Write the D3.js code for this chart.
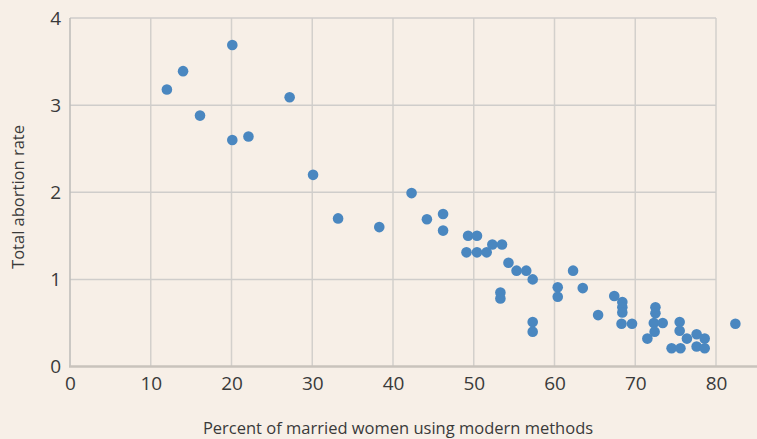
<!DOCTYPE html>
<html>
<head>
<meta charset="utf-8">
<script src="https://cdn.jsdelivr.net/npm/d3@7"></script>
<style>
  html, body { margin: 0; padding: 0; background: #f7efe7; }
  svg { display: block; }
</style>
</head>
<body>
<div class="scatterChart"></div>
<script>
// percent of married women using modern methods
const modernUse = [
  12.0, 14.0, 16.1, 20.1, 20.1, 22.1, 27.2, 30.1,
  33.2, 38.3, 42.3, 44.2, 46.2, 46.2,
  49.3, 50.4, 49.1, 50.4, 51.6, 52.3, 53.5, 54.3, 55.3, 56.5, 57.3,
  53.3, 53.3, 57.3, 57.3,
  60.4, 60.4, 62.3, 63.5, 65.4, 67.4, 68.4, 68.4, 68.4, 68.3, 69.6,
  71.5, 72.5, 72.5, 72.3, 72.4, 73.4, 74.5, 75.6, 75.5, 75.5,
  76.4, 77.6, 77.6, 78.6, 78.6, 82.4
];
// total abortion rate
const abortionRate = [
  3.18, 3.39, 2.88, 3.69, 2.60, 2.64, 3.09, 2.20,
  1.70, 1.60, 1.99, 1.69, 1.75, 1.56,
  1.50, 1.50, 1.31, 1.31, 1.31, 1.40, 1.40, 1.19, 1.10, 1.10, 1.00,
  0.85, 0.78, 0.51, 0.40,
  0.91, 0.80, 1.10, 0.90, 0.59, 0.81, 0.74, 0.68, 0.62, 0.49, 0.49,
  0.32, 0.68, 0.61, 0.50, 0.40, 0.50, 0.21, 0.21, 0.51, 0.41,
  0.32, 0.37, 0.23, 0.32, 0.21, 0.49
];
const xTicks = [0, 10, 20, 30, 40, 50, 60, 70, 80];
const yTicks = [0, 1, 2, 3, 4];

const data = modernUse.map((x, i) => ({ x, y: abortionRate[i] }));

const width = 757;
const height = 439;
const margin = { top: 18, right: 0, bottom: 73, left: 70 };

const x = d3.scaleLinear().domain([0, 80]).range([margin.left, 716]);
const y = d3.scaleLinear().domain([0, 4]).range([366.5, margin.top]);

const svg = d3
  .select(".scatterChart")
  .append("svg")
  .attr("width", width)
  .attr("height", height)
  .attr("style", "font-family: 'Open Sans', sans-serif; background: #f7efe7;");

// grid lines
svg
  .append("g")
  .attr("stroke", "#d3d0cc")
  .attr("stroke-width", 1.5)
  .selectAll()
  .data(xTicks.filter((d) => d > 0))
  .join("line")
  .attr("x1", (d) => x(d))
  .attr("x2", (d) => x(d))
  .attr("y1", y(4))
  .attr("y2", y(0));

svg
  .append("g")
  .attr("stroke", "#cfcdcb")
  .attr("stroke-width", 1.5)
  .selectAll()
  .data(yTicks.filter((d) => d > 0))
  .join("line")
  .attr("x1", x(0))
  .attr("x2", x(80))
  .attr("y1", (d) => y(d))
  .attr("y2", (d) => y(d));

// axes
const xAxis = svg
  .append("g")
  .attr("transform", `translate(0,${y(0)})`)
  .call(d3.axisBottom(x).tickValues(xTicks).tickFormat(d3.format("d")).tickSize(0).tickPadding(10));
xAxis.select(".domain").remove();
xAxis.selectAll("text").attr("font-size", 19).attr("fill", "#3a3a3a").attr("font-family", "'Open Sans', sans-serif");

const yAxis = svg
  .append("g")
  .attr("transform", `translate(${x(0)},0)`)
  .call(d3.axisLeft(y).tickValues(yTicks).tickFormat(d3.format("d")).tickSize(0).tickPadding(9));
yAxis.select(".domain").remove();
yAxis.selectAll("text").attr("font-size", 19).attr("fill", "#3a3a3a").attr("font-family", "'Open Sans', sans-serif");

svg
  .append("line")
  .attr("x1", x(0))
  .attr("x2", x(0))
  .attr("y1", y(4))
  .attr("y2", y(0))
  .attr("stroke", "#bdbbb8")
  .attr("stroke-width", 1.5);

svg
  .append("line")
  .attr("x1", x(0) - 1)
  .attr("x2", width)
  .attr("y1", y(0))
  .attr("y2", y(0))
  .attr("stroke", "#c9c3bc")
  .attr("stroke-width", 2.5);

// axis titles
svg
  .append("text")
  .attr("x", 398)
  .attr("y", 434)
  .attr("text-anchor", "middle")
  .attr("font-size", 16.5)
  .attr("fill", "#3a3a3a")
  .text("Percent of married women using modern methods");

svg
  .append("text")
  .attr("transform", "translate(24,197) rotate(-90)")
  .attr("text-anchor", "middle")
  .attr("font-size", 16.5)
  .attr("fill", "#3a3a3a")
  .text("Total abortion rate");

// points
svg
  .append("g")
  .attr("fill", "#4a87c0")
  .selectAll()
  .data(data)
  .join("circle")
  .attr("cx", (d) => x(d.x))
  .attr("cy", (d) => y(d.y))
  .attr("r", 5.3);
</script>
</body>
</html>
